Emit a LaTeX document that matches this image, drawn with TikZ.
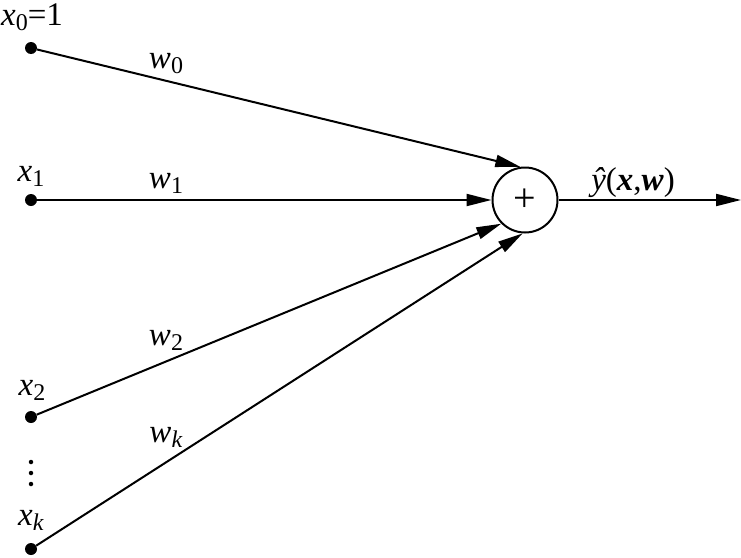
\documentclass[tikz,border=0pt]{standalone}
\usepackage{fontspec}
\setmainfont{Liberation Serif}
\usetikzlibrary{arrows.meta}
\newcommand{\lowsub}[1]{\raisebox{-5pt}{\fontsize{24}{24}\selectfont #1}}
\tikzset{
  dot/.style={circle,fill=black,inner sep=0pt,minimum size=12pt},
  smalldot/.style={circle,fill=black,inner sep=0pt,minimum size=4.5pt},
  sumc/.style={circle,draw=black,line width=2pt,minimum size=65pt,inner sep=0pt,font=\fontsize{40}{40}\selectfont},
  conn/.style={line width=2pt,-{Triangle[length=25pt,width=12pt]}},
  lab/.style={anchor=base,inner sep=0pt,font=\fontsize{33}{33}\selectfont}
}
\begin{document}
\begin{tikzpicture}[x=1pt,y=-1pt]
\useasboundingbox (0,0) rectangle (741,557);
\node[dot] (x0) at (31,48) {};
\node[dot] (x1) at (31,200) {};
\node[dot] (x2) at (31,417) {};
\node[dot] (xk) at (31,549) {};
\node[smalldot] (d1) at (31,462) {};
\node[smalldot] (d2) at (31,473) {};
\node[smalldot] (d3) at (31,484) {};
\node[sumc] (s) at (525,200) {+};
\coordinate (out) at (741,200);

\draw[conn] (x0) -- (s.98);
\draw[conn] (x1) -- (s.west);
\draw[conn] (x2) -- (s.225);
\draw[conn] (xk) -- (s.266);
\draw[conn] (s.east) -- (out);

\node[lab] (lx0) at (32,25) {\textit{x}\lowsub{0}=1};
\node[lab] (lx1) at (31,181) {\textit{x}\lowsub{1}};
\node[lab] (lx2) at (32,395) {\textit{x}\lowsub{2}};
\node[lab] (lxk) at (31,525) {\textit{x}\lowsub{\textit{k}}};
\node[lab] (lw0) at (166,68) {\textit{w}\lowsub{0}};
\node[lab] (lw1) at (166,188) {\textit{w}\lowsub{1}};
\node[lab] (lw2) at (166,345) {\textit{w}\lowsub{2}};
\node[lab] (lwk) at (166,442) {\textit{w}\lowsub{\textit{k}}};
\node[lab] (ly) at (633,190) {\textit{\^{y}}(\textbf{\textit{x}},\textbf{\textit{w}})};
\end{tikzpicture}
\end{document}
